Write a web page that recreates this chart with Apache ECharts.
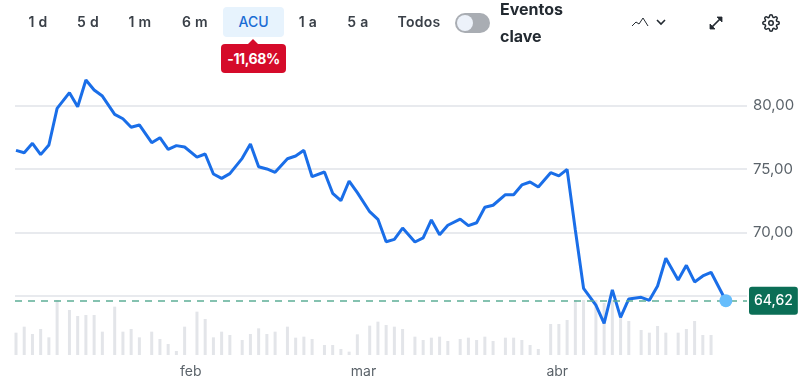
<!DOCTYPE html>
<html>
<head>
<meta charset="utf-8">
<title>ACU</title>
<script src="https://cdn.jsdelivr.net/npm/echarts@6/dist/echarts.min.js"></script>
<style>
    html, body { margin: 0; padding: 0; background: #fff; }
    body { width: 807px; height: 390px; position: relative; overflow: hidden; font-family: Inter, "Noto Sans", sans-serif; color: #232a31; }
    #chart { position: absolute; left: 0; top: 0; width: 807px; height: 390px; }
    .range { position: absolute; top: 7px; height: 30px; line-height: 30px; text-align: center; font-size: 14px; font-weight: 600; color: #3a4048; letter-spacing: .3px; transform: translateX(-50%); white-space: nowrap; }
    .range.active { left: 223px; width: 61px; transform: none; background: #e7f3fd; color: #1a6cd4; font-weight: 500; border-radius: 4px; letter-spacing: 0; }
    .badge { position: absolute; left: 221px; top: 44px; width: 65px; height: 29px; line-height: 29px; text-align: center; background: #d50b2a; color: #fff; font-size: 14px; font-weight: 700; border-radius: 4px; letter-spacing: -.4px; }
    .badge:before { content: ""; position: absolute; left: 26px; top: -5px; border-left: 6px solid transparent; border-right: 6px solid transparent; border-bottom: 6px solid #d50b2a; }
    .toggle { position: absolute; left: 455px; top: 13px; width: 35px; height: 20px; background: #a9adb3; border-radius: 10px; }
    .toggle:before { content: ""; position: absolute; left: 2px; top: 2px; width: 16px; height: 16px; background: #edf2fa; border-radius: 50%; }
    .events { position: absolute; left: 500px; top: -4px; width: 80px; font-size: 16px; line-height: 27px; font-weight: 700; color: #232a31; }
    svg { position: absolute; fill: none; stroke: #232a31; }
</style>
</head>
<body>
<div id="chart"></div>
<div class="range" style="left:38px">1 d</div>
<div class="range" style="left:88px">5 d</div>
<div class="range" style="left:140px">1 m</div>
<div class="range" style="left:195px">6 m</div>
<div class="range active">ACU</div>
<div class="range" style="left:308px">1 a</div>
<div class="range" style="left:358px">5 a</div>
<div class="range" style="left:419px">Todos</div>
<div class="badge">-11,68%</div>
<div class="toggle"></div>
<div class="events">Eventos clave</div>
<svg style="left:631px;top:15px" width="18" height="14" stroke-width="1"><path d="M1 11 L5 7 L8 9 L12 3 L17 11"/></svg>
<svg style="left:655px;top:17px" width="12" height="10" stroke-width="1.6"><path d="M2 3 L6 7 L10 3"/></svg>
<svg style="left:709px;top:16px" width="14" height="14" stroke-width="1.7"><path d="M2 12 L12 2"/><path d="M8 1 H13 V6 Z" style="fill:#232a31;stroke-width:.8"/><path d="M1 8 V13 H6 Z" style="fill:#232a31;stroke-width:.8"/></svg>
<svg style="left:762px;top:14px" width="18" height="18" viewBox="0 0 24 24" stroke-width="2"><circle cx="12" cy="12" r="3"/><path d="M19.4 15a1.65 1.65 0 0 0 .33 1.82l.06.06a2 2 0 0 1 0 2.83 2 2 0 0 1-2.83 0l-.06-.06a1.65 1.65 0 0 0-1.82-.33 1.65 1.65 0 0 0-1 1.51V21a2 2 0 0 1-2 2 2 2 0 0 1-2-2v-.09A1.65 1.65 0 0 0 9 19.4a1.65 1.65 0 0 0-1.82.33l-.06.06a2 2 0 0 1-2.83 0 2 2 0 0 1 0-2.83l.06-.06a1.65 1.65 0 0 0 .33-1.82 1.65 1.65 0 0 0-1.51-1H3a2 2 0 0 1-2-2 2 2 0 0 1 2-2h.09A1.65 1.65 0 0 0 4.6 9a1.65 1.65 0 0 0-.33-1.82l-.06-.06a2 2 0 0 1 0-2.83 2 2 0 0 1 2.83 0l.06.06a1.65 1.65 0 0 0 1.82.33H9a1.65 1.65 0 0 0 1-1.51V3a2 2 0 0 1 2-2 2 2 0 0 1 2 2v.09a1.65 1.65 0 0 0 1 1.51 1.65 1.65 0 0 0 1.82-.33l.06-.06a2 2 0 0 1 2.83 0 2 2 0 0 1 0 2.83l-.06.06a1.65 1.65 0 0 0-.33 1.82V9a1.65 1.65 0 0 0 1.51 1H21a2 2 0 0 1 2 2 2 2 0 0 1-2 2h-.09a1.65 1.65 0 0 0-1.51 1z"/></svg>
<script>
    var prices = [
        76.48, 76.29, 77.03, 76.14, 76.90, 79.79, 81.03, 79.92, 82.03, 81.24, 80.76,
        79.32, 78.97, 78.30, 78.48, 77.08, 77.48, 76.56, 76.85, 76.74,
        75.95, 76.19, 74.61, 74.27, 74.64, 75.85, 76.98, 75.19, 75.01, 74.75,
        75.82, 76.03, 76.48, 74.40, 74.77, 73.09, 72.51, 74.06, 73.14,
        71.64, 71.04, 69.27, 69.46, 70.35, 69.25, 69.57, 70.99, 69.83, 70.57,
        71.06, 70.54, 70.77, 71.99, 72.15, 72.98, 72.98, 73.75, 73.98, 73.59,
        74.72, 74.46, 74.98, 70.20, 65.60, 64.28, 62.84, 65.47, 63.31, 64.76,
        64.89, 64.65, 65.78, 67.97, 66.25, 67.41, 66.10, 66.57, 66.86, 64.62
    ];
    // volume of each session, the last (still open) one has no bar
    var volumes = [
        67, 85, 63, 78, 53, 165, 135, 117, 120, 120, 70,
        145, 70, 78, 53, 70, 48, 33, 12, 85,
        130, 108, 53, 70, 60, 45, 63, 80, 63, 70,
        85, 52, 55, 48, 30, 30, 18, 10, 62,
        88, 100, 90, 85, 78, 55, 45, 52, 55, 42,
        48, 52, 45, 55, 42, 52, 52, 45, 30, 18,
        93, 93, 105, 177, 190, 202, 156, 225, 115, 102,
        75, 67, 87, 67, 67, 78, 102, 60, 60
    ];
    // sessions in each trading week, the chart leaves half a slot between weeks
    var weekLengths = [6, 5, 4, 5, 5, 5, 4, 5, 5, 5, 5, 5, 5, 5, 4, 5, 1];
    var monthLabels = ['feb', 'mar', 'abr'];
    var monthSlots = [21.25, 42.25, 65.8];
    var priceTicks = [65, 70, 75, 80];
    var lastPrice = 64.62;

    var slots = [];
    weekLengths.forEach(function (len, week) {
        for (var d = 0; d < len; d++) {
            slots.push(slots.length + week * 0.5);
        }
    });
    slots[slots.length - 1] += 0.3;

    var pricePoints = prices.map(function (p, i) { return [slots[i], p]; });
    var volumePoints = volumes.map(function (v, i) { return [slots[i], v]; });

    var xMin = -0.12, xMax = 88.87;
    var fmt = function (v) { return v.toFixed(2).replace('.', ','); };

    var chart = echarts.init(document.getElementById('chart'));

    chart.setOption({
        animation: false,
        textStyle: { fontFamily: 'Inter' },
        grid: [
            { left: 15, width: 732, top: 42.3, height: 317 },
            { left: 15, width: 732, top: 300, height: 55 }
        ],
        xAxis: [
            {
                type: 'value', gridIndex: 0, min: xMin, max: xMax,
                axisLine: { show: false }, axisTick: { show: false }, splitLine: { show: false },
                axisLabel: {
                    customValues: monthSlots,
                    margin: 5,
                    fontSize: 14,
                    color: '#5b636a',
                    formatter: function (v) { return monthLabels[monthSlots.indexOf(v)]; }
                }
            },
            {
                type: 'value', gridIndex: 1, min: xMin, max: xMax, show: false
            }
        ],
        yAxis: [
            {
                type: 'value', gridIndex: 0, position: 'right', min: 60, max: 85, interval: 5,
                axisLine: { show: false }, axisTick: { show: false },
                splitLine: { showMinLine: false, showMaxLine: false, lineStyle: { color: '#e0e3e8', width: 1.5 } },
                axisLabel: {
                    showMinLabel: false, showMaxLabel: false,
                    margin: 6,
                    fontSize: 15,
                    color: '#5b636a',
                    formatter: function (v) { return priceTicks.indexOf(v) >= 0 ? fmt(v) : ''; }
                }
            },
            {
                type: 'value', gridIndex: 1, min: 0, max: 165, show: false
            }
        ],
        series: [
            {
                type: 'bar',
                xAxisIndex: 1,
                yAxisIndex: 1,
                barWidth: 3,
                silent: true,
                itemStyle: { color: '#e3e5e9' },
                data: volumePoints
            },
            {
                type: 'line',
                xAxisIndex: 0,
                yAxisIndex: 0,
                showSymbol: false,
                silent: true,
                lineStyle: { color: '#1a6ee8', width: 3 },
                data: pricePoints,
                markLine: {
                    silent: true,
                    symbol: 'none',
                    lineStyle: { color: '#5dae97', type: [7, 6], width: 1.5 },
                    label: {
                        position: 'end',
                        distance: 2,
                        formatter: fmt(lastPrice),
                        backgroundColor: '#0b6e56',
                        color: '#fff',
                        fontSize: 14,
                        fontWeight: 500,
                        borderRadius: 3,
                        padding: [7, 5, 7, 5]
                    },
                    data: [{ yAxis: lastPrice }]
                }
            },
            {
                type: 'scatter',
                xAxisIndex: 0,
                yAxisIndex: 0,
                symbolSize: 13,
                silent: true,
                itemStyle: { color: '#66bdfc', opacity: 1 },
                z: 5,
                data: [pricePoints[pricePoints.length - 1]]
            }
        ]
    });
</script>
</body>
</html>
